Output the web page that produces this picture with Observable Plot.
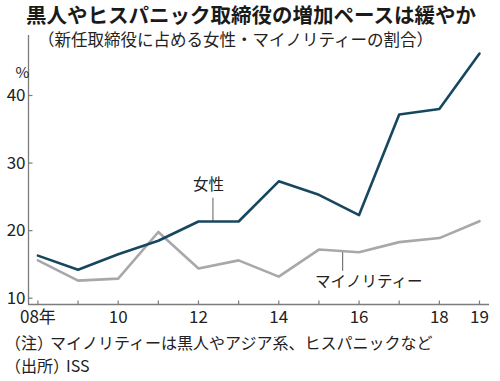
<!DOCTYPE html>
<html><head><meta charset="utf-8">
<script src="https://cdn.jsdelivr.net/npm/d3@7"></script>
<script src="https://cdn.jsdelivr.net/npm/@observablehq/plot@0.6"></script>
<style>
body{margin:0;background:#fff;}
#wrap{position:relative;width:500px;height:381px;overflow:hidden;font-family:"Noto Sans CJK JP",sans-serif;color:#222;background:#fff;}
#title{position:absolute;left:26px;top:2px;font-size:20.5px;font-weight:700;line-height:24px;white-space:nowrap;color:#1a1a1a;}
#sub{position:absolute;left:38px;top:30px;font-size:16.5px;line-height:19px;white-space:nowrap;}
#chart{position:absolute;left:0;top:30px;}
.note{position:absolute;left:5px;font-size:16px;line-height:20px;white-space:nowrap;}
.np{letter-spacing:-3px;}
</style></head>
<body>
<div id="wrap">
  <div id="title">黒人やヒスパニック取締役の増加ペースは緩やか</div>
  <div id="sub">（新任取締役に占める女性・マイノリティーの割合）</div>
  <div id="chart"></div>
  <div class="note" style="top:332px">（注<span class="np">）</span>マイノリティーは黒人やアジア系、ヒスパニックなど</div>
  <div class="note" style="top:355px">（出所<span class="np">）</span>ISS</div>
</div>
<script>
const years = [2008,2009,2010,2011,2012,2013,2014,2015,2016,2017,2018,2019];
const women = [16.3,14.2,16.5,18.5,21.35,21.35,27.3,25.3,22.3,37.2,38.0,46.2];
const minority = [15.6,12.6,12.9,19.8,14.4,15.6,13.2,17.2,16.8,18.3,18.9,21.4];
const xTickValues = [2008,2010,2012,2014,2016,2018,2019];
const xTickLabels = ["08年","10","12","14","16","18","19"];
const yTickValues = [10,20,30,40];
const seriesNames = ["女性","マイノリティー"];
const labelX = [2012.25,2016.24];
const labelY = [26.7,12.4];
const leaderX = [2012.36,2015.59];
const leaderFrom = [21.35,16.96];
const leaderTo = [24.8,14.0];

const W = 500, H = 300, mt = 5, mb = 26, ml = 28, mr = 11;
const insetL = 9.4, insetR = 10;
const plotW = W - ml - mr, plotH = H - mt - mb;
const pxPerYear = (plotW - insetL - insetR) / (years[years.length-1] - years[0]);
const xLeft = years[0] - insetL / pxPerYear;
const yDomain = [9.07, 48.88];

const navy = "#17475f", gray = "#a8a8aa", axisC = "#7c7c7c";
const rows = years.flatMap((y,i) => [
  {year:y, value:women[i], s:seriesNames[0]},
  {year:y, value:minority[i], s:seriesNames[1]}
]);
const labels = seriesNames.map((n,i)=>({n, x:labelX[i], y:labelY[i], lx:leaderX[i], y1:leaderFrom[i], y2:leaderTo[i]}));

const chart = Plot.plot({
  width: W, height: H,
  marginTop: mt, marginBottom: mb, marginLeft: ml, marginRight: mr,
  style: {fontFamily: "'Liberation Sans Narrow','Noto Sans CJK JP',sans-serif", fontSize: "17px", color: "#222", background: "transparent"},
  x: {domain: [years[0], years[years.length-1]], insetLeft: insetL, insetRight: insetR, label: null},
  y: {domain: yDomain, label: null},
  color: {domain: seriesNames, range: [navy, gray]},
  marks: [
    Plot.ruleY([yDomain[0]], {stroke: axisC, strokeWidth: 1.3}),
    Plot.ruleX([xLeft], {stroke: axisC, strokeWidth: 1.3}),
    Plot.tickY(yTickValues, {y: d=>d, insetRight: plotW - 4.5, stroke: axisC, strokeWidth: 1.2}),
    Plot.tickX(years, {x: d=>d, insetTop: plotH - 3.5, stroke: axisC, strokeWidth: 1.2}),
    Plot.axisY({ticks: yTickValues, tickSize: 0, tickPadding: 3, label: null}),
    Plot.axisX({ticks: xTickValues, tickSize: 0, tickPadding: 6, label: null,
      tickFormat: d => xTickLabels[xTickValues.indexOf(d)]}),
    Plot.text(["%"], {frameAnchor: "top-left", dx: -13, dy: 32, fontSize: 15}),
    Plot.ruleX(labels, {x: "lx", y1: "y1", y2: "y2", stroke: "#777", strokeWidth: 1.2}),
    Plot.line(rows.filter(d=>d.s===seriesNames[1]), {x: "year", y: "value", stroke: gray, strokeWidth: 2.6}),
    Plot.line(rows.filter(d=>d.s===seriesNames[0]), {x: "year", y: "value", stroke: navy, strokeWidth: 2.6}),
    Plot.text(labels, {x: "x", y: "y", text: "n", fontFamily: "Noto Sans CJK JP", fontSize: 15.5, fill: "#222"})
  ]
});
document.getElementById("chart").appendChild(chart);
</script>
</body></html>
